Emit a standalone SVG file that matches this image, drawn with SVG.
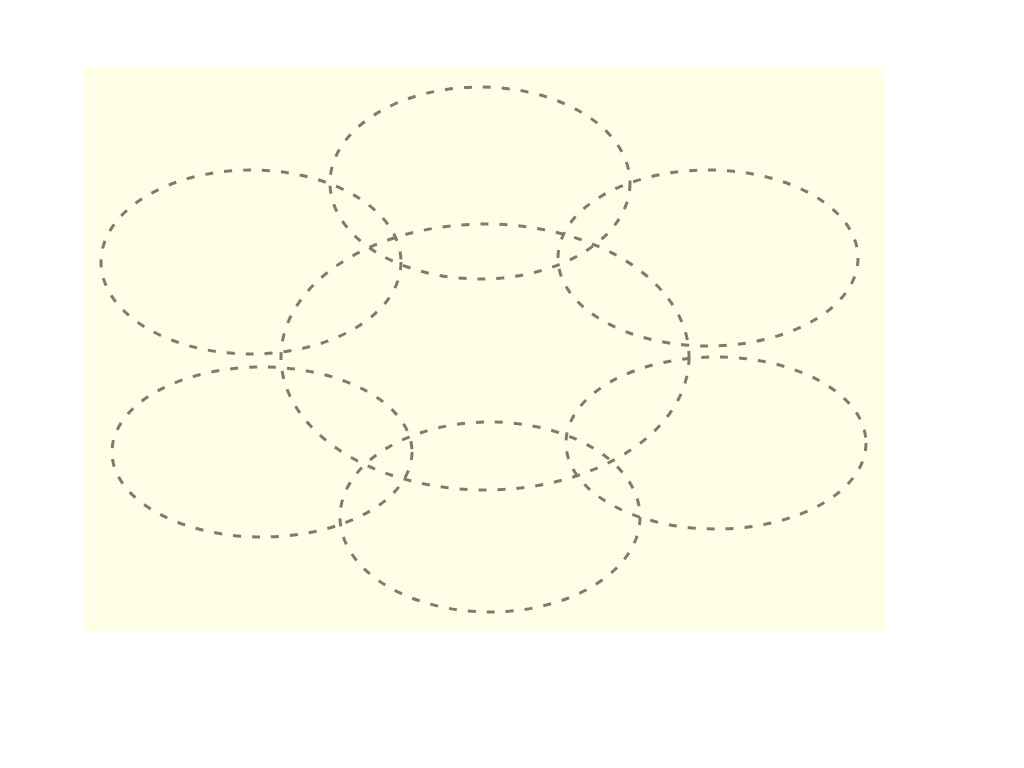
<svg xmlns="http://www.w3.org/2000/svg" width="1024" height="768" viewBox="0 0 1024 768">
<style>
.bg{fill:#FFFFE8}
.e{fill:none;stroke:#7d7d6a;stroke-width:3;stroke-dasharray:8 11}
</style>
<rect width="1024" height="768" fill="#ffffff"/>
<rect class="bg" x="84" y="68" width="801" height="564"/>
<g id="center"><ellipse class="e" cx="485" cy="357" rx="204" ry="133"/></g>
<g id="top"><ellipse class="e" cx="480" cy="183" rx="150" ry="96"/></g>
<g id="upper-left"><ellipse class="e" cx="251" cy="262" rx="150" ry="92"/></g>
<g id="upper-right"><ellipse class="e" cx="708" cy="258" rx="150" ry="88"/></g>
<g id="lower-left"><ellipse class="e" cx="262" cy="452" rx="150" ry="85"/></g>
<g id="lower-right"><ellipse class="e" cx="716" cy="443" rx="150" ry="86"/></g>
<g id="bottom"><ellipse class="e" cx="490" cy="517" rx="150" ry="95"/></g>
<g id="connectors"></g>
</svg>
